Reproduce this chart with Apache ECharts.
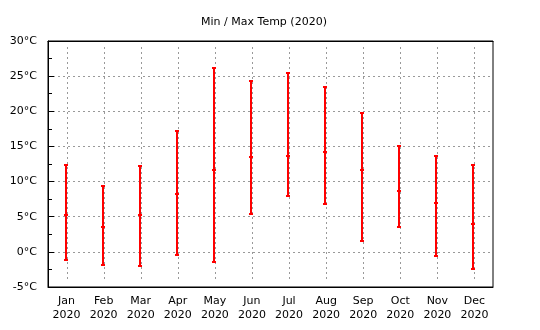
<!DOCTYPE html>
<html>
<head>
<meta charset="utf-8">
<script src="https://cdn.jsdelivr.net/npm/echarts@6/dist/echarts.min.js"></script>
<style>html,body{margin:0;padding:0;background:#fff;}#c{width:540px;height:330px;}</style>
</head>
<body>
<div id="c"></div>
<script>
var months = ['Jan','Feb','Mar','Apr','May','Jun','Jul','Aug','Sep','Oct','Nov','Dec'];
var year = '2020';
var minTemp = [-1.15, -1.85, -2.05, -0.45, -1.45, 5.45, 8.0, 6.85, 1.5, 3.6, -0.55, -2.4];
var meanTemp = [5.3, 3.55, 5.3, 8.3, 11.7, 13.55, 13.7, 14.25, 11.7, 8.7, 7.0, 4.0];
var maxTemp = [12.4, 9.4, 12.2, 17.25, 26.2, 24.35, 25.5, 23.5, 19.8, 15.0, 13.7, 12.4];
var yTicks = [-5, 0, 5, 10, 15, 20, 25, 30];

var FONT = 'DejaVu Sans';
var chart = echarts.init(document.getElementById('c'), null, {renderer: 'canvas'});
var data = months.map(function (m, i) { return [i, minTemp[i], meanTemp[i], maxTemp[i]]; });
var cats = months.map(function (m) { return m + '\n' + year; });

chart.setOption({
  animation: false,
  backgroundColor: '#fff',
  title: {
    text: 'Min / Max Temp (2020)',
    left: 259, top: 12, textAlign: 'center',
    textStyle: {fontFamily: FONT, fontSize: 11, fontWeight: 'normal', color: '#000'}
  },
  grid: {left: 48, right: 47, top: 41, bottom: 43, show: true, borderColor: '#000', borderWidth: 1, backgroundColor: 'transparent'},
  xAxis: [{
    type: 'category', data: cats, position: 'bottom', boundaryGap: true,
    axisLine: {onZero: false, lineStyle: {color: '#000', width: 1}},
    axisTick: {alignWithLabel: true, inside: true, length: 6, lineStyle: {color: '#000'}},
    axisLabel: {fontFamily: FONT, fontSize: 11, color: '#000', margin: 7, lineHeight: 14},
    splitLine: {show: false}
  }, {
    type: 'category', data: cats, position: 'top', boundaryGap: true,
    axisLine: {onZero: false, lineStyle: {color: '#000', width: 1}},
    axisTick: {alignWithLabel: true, inside: true, length: 6, lineStyle: {color: '#000'}},
    axisLabel: {show: false},
    splitLine: {show: false}
  }],
  yAxis: {
    type: 'value', min: -5, max: 30, interval: 5,
    axisLine: {show: true, onZero: false, lineStyle: {color: '#000', width: 1}},
    axisTick: {show: true, inside: true, length: 6, lineStyle: {color: '#000'}},
    minorTick: {show: true, splitNumber: 2, length: 4, lineStyle: {color: '#000'}},
    axisLabel: {fontFamily: FONT, fontSize: 11, color: '#000', margin: 11,
      formatter: function (v) { return yTicks.indexOf(v) >= 0 ? v + '°C' : ''; }},
    splitLine: {show: true, lineStyle: {color: '#999', type: [2, 3], width: 1}}
  },
  series: [{
    type: 'custom',
    name: 'grid-x',
    xAxisIndex: 0,
    silent: true,
    z: 1,
    data: months.map(function (m, i) { return [i]; }),
    encode: {x: 0},
    renderItem: function (params, api) {
      var p = api.coord([api.value(0), 0]);
      var cs = params.coordSys;
      var cx = Math.round(p[0]) + 0.5;
      return {type: 'line', shape: {x1: cx, y1: cs.y + 6, x2: cx, y2: cs.y + cs.height - 6},
        style: {stroke: '#999', lineWidth: 1, lineDash: [2, 3]}};
    }
  }, {
    type: 'custom',
    xAxisIndex: 0,
    z: 3,
    data: data,
    encode: {x: 0, y: [1, 2, 3]},
    renderItem: function (params, api) {
      var x = api.value(0);
      var pMin = api.coord([x, api.value(1)]);
      var pMean = api.coord([x, api.value(2)]);
      var pMax = api.coord([x, api.value(3)]);
      var cx = Math.round(pMin[0]) - 1;
      var style = {stroke: '#ff0000', lineWidth: 2};
      var cap = function (p) {
        return {type: 'rect', shape: {x: cx - 2, y: Math.round(p[1]) - 1, width: 4, height: 2}, style: {fill: '#ff0000'}};
      };
      return {type: 'group', children: [
        {type: 'line', shape: {x1: cx, y1: pMin[1], x2: cx, y2: pMax[1]}, style: style},
        cap(pMin), cap(pMean), cap(pMax)
      ]};
    }
  }]
});
</script>
</body>
</html>
